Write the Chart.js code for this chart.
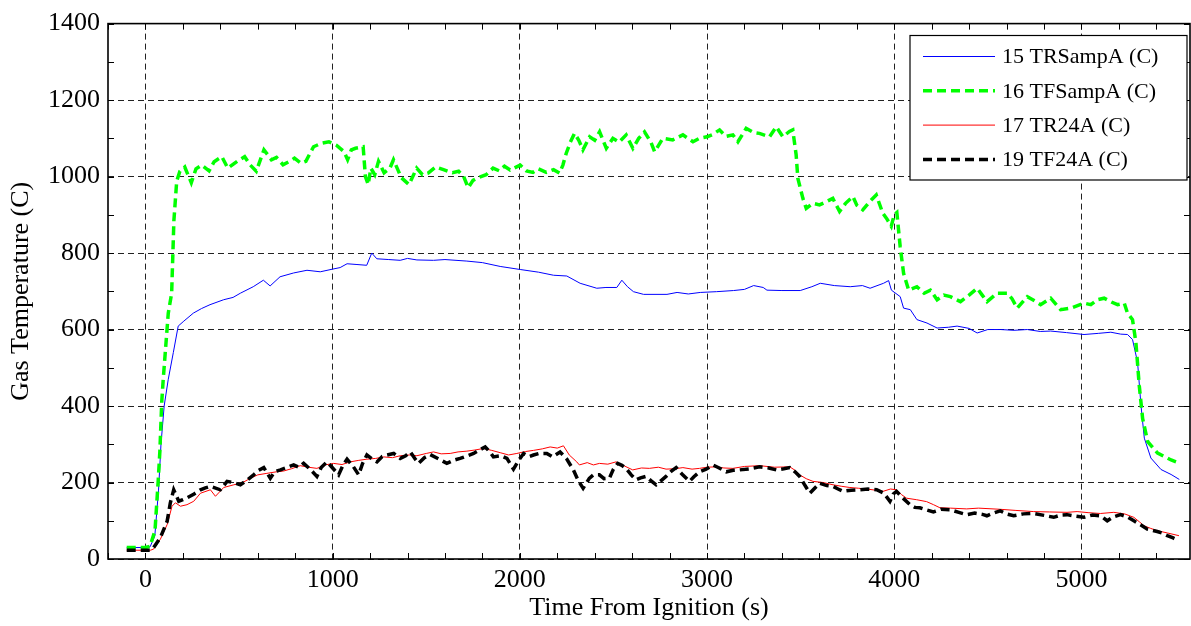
<!DOCTYPE html>
<html>
<head>
<meta charset="utf-8">
<script src="https://cdn.jsdelivr.net/npm/chart.js@4.4.0/dist/chart.umd.min.js"></script>
<style>
  html, body { margin: 0; padding: 0; background: #fff; }
  canvas { display: block; }
</style>
</head>
<body>
<canvas id="chart" width="1191" height="626"></canvas>
<script>
// values: time (s) and temperature (C)
const trSampATime = [-100, 0, 25, 50, 70, 83, 100, 122, 149, 175, 205, 256, 300, 345, 418, 468, 507, 576, 630, 666, 719, 792, 863, 934, 1000, 1040, 1077, 1130, 1182, 1209, 1236, 1300, 1361, 1400, 1450, 1539, 1600, 1717, 1800, 1895, 2002, 2100, 2180, 2251, 2322, 2411, 2460, 2518, 2545, 2575, 2607, 2661, 2786, 2840, 2900, 2964, 3050, 3142, 3200, 3249, 3300, 3320, 3400, 3498, 3560, 3605, 3680, 3765, 3830, 3871, 3943, 3970, 3985, 4032, 4050, 4086, 4121, 4175, 4229, 4290, 4336, 4400, 4443, 4500, 4568, 4640, 4711, 4780, 4836, 4920, 5014, 5090, 5157, 5210, 5246, 5273, 5300, 5318, 5336, 5371, 5425, 5479, 5523];
const trSampA = [30, 30, 32, 60, 180, 300, 400, 470, 540, 609, 622, 643, 655, 665, 678, 684, 695, 712, 729, 714, 738, 748, 755, 751, 758, 762, 772, 770, 768, 800, 785, 783, 781, 786, 782, 781, 783, 779, 775, 765, 757, 750, 742, 740, 721, 708, 710, 710, 729, 712, 699, 692, 692, 697, 693, 697, 699, 702, 705, 715, 710, 703, 702, 702, 712, 721, 715, 712, 715, 708, 721, 728, 703, 686, 656, 652, 626, 617, 604, 606, 609, 603, 591, 600, 600, 598, 600, 595, 596, 592, 587, 590, 593, 588, 587, 574, 514, 402, 316, 264, 234, 221, 208];

const tfSampATime = [-100, 0, 24, 51, 68, 77, 87, 95, 122, 140, 152, 167, 184, 210, 245, 270, 300, 340, 367, 408, 440, 490, 530, 560, 592, 633, 673, 700, 735, 770, 796, 830, 857, 898, 939, 980, 1020, 1061, 1080, 1100, 1122, 1163, 1175, 1190, 1204, 1225, 1245, 1275, 1306, 1325, 1367, 1408, 1449, 1480, 1510, 1550, 1592, 1640, 1673, 1700, 1724, 1750, 1776, 1820, 1857, 1890, 1918, 1948, 2002, 2035, 2070, 2100, 2141, 2180, 2212, 2230, 2248, 2270, 2292, 2315, 2337, 2373, 2400, 2426, 2462, 2497, 2530, 2568, 2604, 2635, 2666, 2700, 2720, 2764, 2817, 2871, 2925, 2960, 3000, 3030, 3067, 3100, 3138, 3165, 3209, 3250, 3280, 3334, 3370, 3405, 3440, 3458, 3476, 3485, 3512, 3530, 3565, 3601, 3640, 3672, 3708, 3740, 3779, 3800, 3832, 3870, 3904, 3939, 3960, 3984, 4000, 4014, 4032, 4050, 4077, 4121, 4160, 4193, 4229, 4265, 4300, 4354, 4400, 4443, 4470, 4496, 4550, 4604, 4630, 4657, 4711, 4750, 4782, 4836, 4889, 4943, 5014, 5050, 5086, 5121, 5160, 5193, 5229, 5246, 5273, 5291, 5309, 5327, 5354, 5407, 5479, 5523];
const tfSampA = [30, 30, 33, 74, 203, 281, 410, 470, 643, 695, 885, 988, 1014, 1025, 984, 1020, 1030, 1015, 1039, 1052, 1022, 1040, 1052, 1030, 1014, 1070, 1044, 1050, 1031, 1040, 1048, 1035, 1040, 1078, 1087, 1091, 1082, 1065, 1044, 1070, 1074, 1078, 1000, 979, 1022, 1005, 1040, 1010, 1022, 1044, 997, 979, 1022, 1005, 1009, 1025, 1018, 1010, 1014, 1000, 971, 990, 997, 1005, 1022, 1015, 1027, 1017, 1030, 1015, 1011, 1020, 1011, 1018, 1009, 1030, 1061, 1090, 1113, 1095, 1070, 1104, 1095, 1117, 1074, 1100, 1090, 1109, 1074, 1100, 1117, 1090, 1065, 1100, 1096, 1109, 1091, 1100, 1104, 1110, 1122, 1105, 1109, 1091, 1126, 1115, 1113, 1104, 1130, 1104, 1118, 1122, 1057, 996, 943, 917, 930, 926, 935, 943, 909, 930, 948, 925, 913, 935, 952, 904, 890, 870, 900, 906, 816, 747, 703, 712, 695, 703, 678, 690, 686, 673, 690, 708, 690, 673, 695, 695, 680, 656, 686, 675, 665, 682, 652, 656, 669, 665, 678, 682, 672, 665, 669, 643, 626, 566, 453, 367, 307, 277, 259, 251];

const tr24ATime = [-100, 27, 44, 80, 116, 142, 160, 187, 222, 258, 294, 347, 374, 418, 472, 520, 560, 600, 649, 700, 738, 780, 827, 870, 916, 960, 1005, 1050, 1094, 1140, 1183, 1230, 1272, 1320, 1361, 1410, 1450, 1500, 1539, 1580, 1628, 1670, 1717, 1760, 1806, 1850, 1895, 1940, 1984, 2030, 2073, 2120, 2162, 2200, 2233, 2264, 2304, 2318, 2360, 2393, 2425, 2470, 2514, 2560, 2603, 2650, 2692, 2740, 2781, 2830, 2871, 2920, 2960, 3000, 3049, 3090, 3138, 3200, 3281, 3360, 3442, 3470, 3495, 3530, 3566, 3620, 3673, 3720, 3763, 3810, 3852, 3900, 3941, 3980, 4012, 4040, 4066, 4120, 4173, 4210, 4244, 4300, 4387, 4450, 4566, 4650, 4745, 4830, 4923, 4977, 5040, 5102, 5173, 5230, 5280, 5310, 5334, 5370, 5405, 5460, 5521];
const tr24A = [23, 23, 26, 52, 90, 138, 147, 138, 142, 151, 172, 181, 164, 187, 194, 200, 211, 220, 224, 228, 230, 236, 244, 240, 237, 246, 250, 247, 254, 258, 261, 263, 267, 265, 270, 272, 270, 276, 280, 275, 276, 280, 282, 285, 289, 284, 278, 272, 276, 281, 284, 288, 293, 290, 296, 272, 254, 246, 252, 246, 250, 248, 254, 243, 233, 238, 237, 240, 235, 236, 239, 235, 237, 240, 241, 238, 237, 242, 244, 240, 241, 232, 220, 210, 203, 200, 194, 190, 187, 185, 183, 180, 177, 183, 181, 168, 159, 155, 150, 142, 134, 133, 131, 133, 130, 127, 124, 123, 122, 124, 121, 119, 122, 118, 109, 97, 87, 80, 74, 68, 61];

const tf24ATime = [-100, 27, 44, 80, 116, 133, 151, 178, 200, 222, 260, 294, 320, 347, 400, 436, 470, 507, 540, 578, 605, 632, 667, 690, 721, 760, 792, 820, 845, 880, 916, 940, 970, 1000, 1032, 1055, 1077, 1110, 1139, 1160, 1183, 1210, 1237, 1265, 1290, 1326, 1361, 1390, 1415, 1440, 1459, 1490, 1521, 1565, 1610, 1645, 1681, 1720, 1753, 1785, 1815, 1840, 1859, 1900, 1931, 1966, 1990, 2020, 2050, 2073, 2103, 2144, 2175, 2215, 2250, 2286, 2312, 2338, 2371, 2393, 2425, 2450, 2478, 2500, 2523, 2545, 2567, 2595, 2621, 2645, 2674, 2700, 2728, 2755, 2781, 2810, 2835, 2870, 2906, 2930, 2960, 2995, 3031, 3065, 3103, 3140, 3174, 3230, 3281, 3330, 3370, 3410, 3442, 3470, 3495, 3520, 3549, 3575, 3602, 3640, 3673, 3700, 3727, 3770, 3816, 3860, 3906, 3945, 3977, 3995, 4012, 4045, 4084, 4110, 4137, 4175, 4209, 4250, 4298, 4345, 4387, 4430, 4476, 4495, 4530, 4566, 4600, 4638, 4690, 4745, 4800, 4852, 4890, 4923, 4970, 5013, 5060, 5102, 5138, 5170, 5209, 5245, 5280, 5320, 5352, 5405, 5430, 5459, 5490, 5512];
const tf24A = [23, 23, 30, 56, 99, 147, 181, 151, 155, 160, 170, 181, 186, 190, 181, 203, 200, 194, 205, 220, 232, 239, 211, 228, 233, 240, 246, 240, 250, 235, 216, 240, 254, 238, 220, 245, 261, 242, 220, 250, 272, 262, 254, 268, 272, 276, 263, 270, 280, 262, 250, 265, 273, 262, 250, 258, 263, 270, 276, 285, 293, 280, 267, 270, 263, 235, 255, 276, 268, 272, 276, 276, 267, 280, 262, 233, 205, 185, 211, 220, 220, 210, 211, 235, 250, 245, 237, 220, 207, 212, 216, 205, 194, 205, 216, 230, 239, 220, 203, 215, 228, 235, 246, 238, 228, 232, 233, 236, 241, 238, 233, 236, 239, 228, 216, 195, 172, 185, 198, 192, 190, 183, 177, 180, 181, 183, 181, 172, 151, 170, 177, 160, 142, 135, 134, 128, 123, 130, 129, 122, 116, 120, 116, 113, 120, 126, 118, 113, 118, 119, 114, 109, 115, 116, 112, 109, 115, 113, 100, 110, 116, 110, 100, 88, 78, 72, 68, 61, 55, 50];

const seriesLabels = ['15 TRSampA (C)', '16 TFSampA (C)', '17 TR24A (C)', '19 TF24A (C)'];
const xTickValues = [0, 1000, 2000, 3000, 4000, 5000];
const yTickValues = [0, 200, 400, 600, 800, 1000, 1200, 1400];
const xMinorStep = 200;
const yMinorStep = 100;

const serif = "'Liberation Serif', 'Times New Roman', serif";

function toPoints(t, v) {
    return t.map((x, i) => ({ x: x, y: v[i] }));
}

// box round the plot and the little inward ticks (matlab style)
const frameTicks = {
    id: 'frameTicks',
    afterDatasetsDraw(chart) {
        const { ctx, chartArea: a, scales: { x, y } } = chart;
        ctx.save();
        ctx.strokeStyle = '#000';
        ctx.lineWidth = 1;
        ctx.beginPath();
        for (let v = Math.ceil(x.min / xMinorStep) * xMinorStep; v <= x.max; v += xMinorStep) {
            const px = Math.round(x.getPixelForValue(v)) + 0.5;
            ctx.moveTo(px, a.bottom); ctx.lineTo(px, a.bottom - 6);
            ctx.moveTo(px, a.top); ctx.lineTo(px, a.top + 6);
        }
        for (let v = 0; v <= y.max; v += yMinorStep) {
            const py = Math.round(y.getPixelForValue(v)) + 0.5;
            ctx.moveTo(a.left, py); ctx.lineTo(a.left + 6, py);
            ctx.moveTo(a.right, py); ctx.lineTo(a.right - 6, py);
        }
        ctx.stroke();
        ctx.lineWidth = 1.6;
        ctx.strokeRect(a.left, a.top, a.right - a.left, a.bottom - a.top);
        ctx.restore();
    }
};

// legend box in the top right corner, inside the axes
const boxLegend = {
    id: 'boxLegend',
    afterDraw(chart) {
        const ctx = chart.ctx;
        const bx = 910, by = 35.5, bw = 277, bh = 144.5;
        ctx.save();
        ctx.fillStyle = '#fff';
        ctx.fillRect(bx, by, bw, bh);
        ctx.strokeStyle = '#000';
        ctx.lineWidth = 1.2;
        ctx.strokeRect(bx, by, bw, bh);
        ctx.font = '22px ' + serif;
        ctx.textBaseline = 'middle';
        chart.data.datasets.forEach((ds, i) => {
            const ly = 56.5 + i * 34.3;
            ctx.beginPath();
            ctx.setLineDash(ds.borderDash || []);
            ctx.strokeStyle = ds.borderColor;
            ctx.lineWidth = ds.borderWidth;
            ctx.moveTo(923, ly);
            ctx.lineTo(995, ly);
            ctx.stroke();
            ctx.setLineDash([]);
            ctx.fillStyle = '#000';
            ctx.fillText(ds.label, 1002, ly + 1);
        });
        ctx.restore();
    }
};

const datasets = [
    { label: seriesLabels[0], data: toPoints(trSampATime, trSampA), borderColor: '#0000ff', borderWidth: 1, order: 4 },
    { label: seriesLabels[1], data: toPoints(tfSampATime, tfSampA), borderColor: '#00ff00', borderWidth: 3.5, borderDash: [9, 5], order: 3 },
    { label: seriesLabels[2], data: toPoints(tr24ATime, tr24A), borderColor: '#ff0000', borderWidth: 1, order: 2 },
    { label: seriesLabels[3], data: toPoints(tf24ATime, tf24A), borderColor: '#000000', borderWidth: 3.5, borderDash: [9, 5], order: 1 }
];

new Chart(document.getElementById('chart'), {
    type: 'line',
    data: { datasets: datasets },
    plugins: [frameTicks, boxLegend],
    options: {
        responsive: false,
        animation: false,
        layout: { padding: { top: 19, right: 1, left: 0, bottom: 0 } },
        elements: {
            point: { radius: 0 },
            line: { tension: 0, fill: false }
        },
        plugins: {
            legend: { display: false },
            tooltip: { enabled: false }
        },
        scales: {
            x: {
                type: 'linear',
                min: -200,
                max: 5580,
                afterBuildTicks: s => { s.ticks = xTickValues.map(v => ({ value: v })); },
                afterFit: s => { s.height = 67; },
                grid: { color: '#222', lineWidth: 1, drawTicks: false },
                border: { display: false, dash: [6, 4] },
                ticks: { color: '#000', padding: 6, maxRotation: 0, font: { family: serif, size: 26 }, callback: v => String(v) },
                title: { display: true, text: 'Time From Ignition (s)', color: '#000', padding: { top: 0, bottom: 2 }, font: { family: serif, size: 26 } }
            },
            y: {
                min: 0,
                max: 1400,
                afterBuildTicks: s => { s.ticks = yTickValues.map(v => ({ value: v })); },
                afterFit: s => { s.width = 108; },
                grid: { color: '#222', lineWidth: 1, drawTicks: false },
                border: { display: false, dash: [6, 4] },
                ticks: { color: '#000', padding: 8, font: { family: serif, size: 26 }, callback: v => String(v) },
                title: { display: true, text: 'Gas Temperature (C)', color: '#000', padding: { top: 6, bottom: 0 }, font: { family: serif, size: 26 } }
            }
        }
    }
});
</script>
</body>
</html>
